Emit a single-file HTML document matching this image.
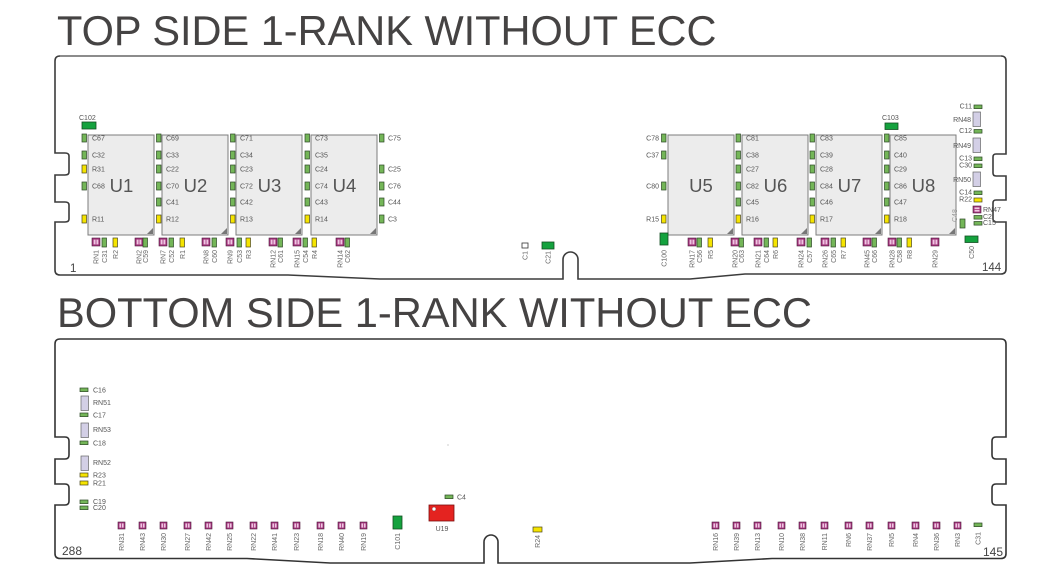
<!DOCTYPE html>
<html><head><meta charset="utf-8"><style>
html,body{margin:0;padding:0;background:#fff}
svg{display:block}
text{font-family:"Liberation Sans",sans-serif}
.l{font-size:7px;fill:#555}
.r{font-size:7px;fill:#666;text-anchor:end}
.t{font-size:41.5px;fill:#454343}
.u{font-size:18.5px;fill:#555;text-anchor:middle}
.n{font-size:11.5px;fill:#444}
</style></head><body>
<svg width="1060" height="583" viewBox="0 0 1060 583" xmlns="http://www.w3.org/2000/svg">
<defs>
<g id="pk8"><rect width="8" height="8" fill="#a3347c" stroke="#4d1a3c" stroke-width=".6"/><rect x="1.6" y="1.6" width="4.8" height="4.8" fill="#efc6e2"/><rect x="3.6" y="1.6" width=".8" height="4.8" fill="#a3347c"/></g>
<g id="pk7"><rect width="7" height="7" fill="#a3347c" stroke="#4d1a3c" stroke-width=".6"/><rect x="1.4" y="1.4" width="4.2" height="4.2" fill="#efc6e2"/><rect x="3.1" y="1.4" width=".8" height="4.2" fill="#a3347c"/></g>
<g id="pkh"><rect width="8" height="7" fill="#a3347c" stroke="#4d1a3c" stroke-width=".6"/><rect x="1.5" y="1.4" width="5" height="4.2" fill="#efc6e2"/><rect x="1.5" y="3.1" width="5" height=".8" fill="#a3347c"/></g>
<g id="gv"><rect width="4.5" height="9" fill="#74b658" stroke="#2c4725" stroke-width=".7"/></g>
<g id="yv"><rect width="4.5" height="9" fill="#f5e400" stroke="#4a4620" stroke-width=".7"/></g>
<g id="gm"><rect width="4.5" height="8" fill="#74b658" stroke="#2c4725" stroke-width=".7"/></g>
<g id="ym"><rect width="4.5" height="8" fill="#f5e400" stroke="#4a4620" stroke-width=".7"/></g>
<g id="gh"><rect width="8" height="3.6" fill="#74b658" stroke="#2c4725" stroke-width=".7"/></g>
<g id="yh"><rect width="8" height="4" fill="#f5e400" stroke="#4a4620" stroke-width=".7"/></g>
<g id="lv"><rect width="7.5" height="14.5" fill="#d3cfe6" stroke="#666" stroke-width=".7"/></g>
<g id="chip"><rect width="66" height="100" fill="#ececec" stroke="#7c7c7c" stroke-width="1"/><polygon points="65,93 65,99 59,99" fill="#777"/></g>
</defs>

<text class="t" x="57" y="45">TOP SIDE 1-RANK WITHOUT ECC</text>
<text class="t" x="57" y="327" textLength="755" lengthAdjust="spacingAndGlyphs">BOTTOM SIDE 1-RANK WITHOUT ECC</text>

<path d="M60,56 H1001 Q1006,56 1006,61 V154 H996 Q993,154 993,157 V173 Q993,176 996,176 H1006 V200 H996 Q993,200 993,203 V219 Q993,222 996,222 H1006 V269 Q1006,274 1001,274 H745 L690,279 H578 V259.5 A7.5,7.5 0 0 0 563,259.5 V279 H380 L288,275 H60 Q55,275 55,270 V222 H65 Q69,222 69,219 V205 Q69,202 65,202 H55 V175 H65 Q69,175 69,172 V156 Q69,153 65,153 H55 V61 Q55,56 60,56 Z" fill="none" stroke="#3c3c3c" stroke-width="1.6"/>
<line x1="60" y1="56" x2="1001" y2="56" stroke="#8a8a8a" stroke-width="1.8"/>

<path d="M60,339 H1001 Q1006,339 1006,344 V437 H996 Q992,437 992,441 V455 Q992,459 996,459 H1006 V484 H996 Q992,484 992,488 V501 Q992,505 996,505 H1006 V553.5 Q1006,558.5 1001,558.5 H772 L690,563 H498 V542 A7,7 0 0 0 484,542 V563 H330 L247,558.5 H60 Q55,558.5 55,553.5 V505 H65 Q69,505 69,501 V488 Q69,484 65,484 H55 V459 H65 Q69,459 69,455 V441 Q69,437 65,437 H55 V344 Q55,339 60,339 Z" fill="none" stroke="#333" stroke-width="1.6"/>

<use href="#chip" x="88" y="135"/><use href="#chip" x="162" y="135"/><use href="#chip" x="236" y="135"/><use href="#chip" x="311" y="135"/>
<use href="#chip" x="668" y="135"/><use href="#chip" x="742" y="135"/><use href="#chip" x="816" y="135"/><use href="#chip" x="890" y="135"/>
<text class="u" x="121.5" y="192">U1</text><text class="u" x="195.5" y="192">U2</text><text class="u" x="269.5" y="192">U3</text><text class="u" x="344.5" y="192">U4</text>
<text class="u" x="701" y="192">U5</text><text class="u" x="775.5" y="192">U6</text><text class="u" x="849.5" y="192">U7</text><text class="u" x="923.5" y="192">U8</text>

<rect x="82" y="122" width="14" height="7" fill="#14a23e" stroke="#134f22" stroke-width=".8"/>
<text class="l" x="79" y="120">C102</text>
<rect x="885" y="123" width="13" height="6.5" fill="#14a23e" stroke="#134f22" stroke-width=".8"/>
<text class="l" x="882" y="120">C103</text>

<use href="#gm" x="82" y="134"/><use href="#gm" x="82" y="151"/><use href="#ym" x="82" y="165"/><use href="#gm" x="82" y="182"/><use href="#ym" x="82" y="215"/>
<text class="l" x="92" y="140.5">C67</text><text class="l" x="92" y="157.5">C32</text><text class="l" x="92" y="171.5">R31</text><text class="l" x="92" y="188.5">C68</text><text class="l" x="92" y="221.5">R11</text>
<use href="#gm" x="156.5" y="134"/><use href="#gm" x="156.5" y="151"/><use href="#gm" x="156.5" y="165"/><use href="#gm" x="156.5" y="182"/><use href="#gm" x="156.5" y="198"/><use href="#ym" x="156.5" y="215"/>
<text class="l" x="166" y="140.5">C69</text><text class="l" x="166" y="157.5">C33</text><text class="l" x="166" y="171.5">C22</text><text class="l" x="166" y="188.5">C70</text><text class="l" x="166" y="204.5">C41</text><text class="l" x="166" y="221.5">R12</text>
<use href="#gm" x="230.5" y="134"/><use href="#gm" x="230.5" y="151"/><use href="#gm" x="230.5" y="165"/><use href="#gm" x="230.5" y="182"/><use href="#gm" x="230.5" y="198"/><use href="#ym" x="230.5" y="215"/>
<text class="l" x="240" y="140.5">C71</text><text class="l" x="240" y="157.5">C34</text><text class="l" x="240" y="171.5">C23</text><text class="l" x="240" y="188.5">C72</text><text class="l" x="240" y="204.5">C42</text><text class="l" x="240" y="221.5">R13</text>
<use href="#gm" x="305" y="134"/><use href="#gm" x="305" y="151"/><use href="#gm" x="305" y="165"/><use href="#gm" x="305" y="182"/><use href="#gm" x="305" y="198"/><use href="#ym" x="305" y="215"/>
<text class="l" x="315" y="140.5">C73</text><text class="l" x="315" y="157.5">C35</text><text class="l" x="315" y="171.5">C24</text><text class="l" x="315" y="188.5">C74</text><text class="l" x="315" y="204.5">C43</text><text class="l" x="315" y="221.5">R14</text>
<use href="#gm" x="379.5" y="134"/><use href="#gm" x="379.5" y="165"/><use href="#gm" x="379.5" y="182"/><use href="#gm" x="379.5" y="198"/><use href="#gm" x="379.5" y="215"/>
<text class="l" x="388" y="140.5">C75</text><text class="l" x="388" y="171.5">C25</text><text class="l" x="388" y="188.5">C76</text><text class="l" x="388" y="204.5">C44</text><text class="l" x="388" y="221.5">C3</text>

<use href="#gm" x="661.5" y="134"/><use href="#gm" x="661.5" y="151"/><use href="#gm" x="661.5" y="182"/><use href="#ym" x="661.5" y="215"/>
<text class="l" x="659" y="140.5" text-anchor="end">C78</text><text class="l" x="659" y="157.5" text-anchor="end">C37</text><text class="l" x="659" y="188.5" text-anchor="end">C80</text><text class="l" x="659" y="221.5" text-anchor="end">R15</text>
<use href="#gm" x="736" y="134"/><use href="#gm" x="736" y="151"/><use href="#gm" x="736" y="165"/><use href="#gm" x="736" y="182"/><use href="#gm" x="736" y="198"/><use href="#ym" x="736" y="215"/>
<text class="l" x="746" y="140.5">C81</text><text class="l" x="746" y="157.5">C38</text><text class="l" x="746" y="171.5">C27</text><text class="l" x="746" y="188.5">C82</text><text class="l" x="746" y="204.5">C45</text><text class="l" x="746" y="221.5">R16</text>
<use href="#gm" x="810" y="134"/><use href="#gm" x="810" y="151"/><use href="#gm" x="810" y="165"/><use href="#gm" x="810" y="182"/><use href="#gm" x="810" y="198"/><use href="#ym" x="810" y="215"/>
<text class="l" x="820" y="140.5">C83</text><text class="l" x="820" y="157.5">C39</text><text class="l" x="820" y="171.5">C28</text><text class="l" x="820" y="188.5">C84</text><text class="l" x="820" y="204.5">C46</text><text class="l" x="820" y="221.5">R17</text>
<use href="#gm" x="884.5" y="134"/><use href="#gm" x="884.5" y="151"/><use href="#gm" x="884.5" y="165"/><use href="#gm" x="884.5" y="182"/><use href="#gm" x="884.5" y="198"/><use href="#ym" x="884.5" y="215"/>
<text class="l" x="894" y="140.5">C85</text><text class="l" x="894" y="157.5">C40</text><text class="l" x="894" y="171.5">C29</text><text class="l" x="894" y="188.5">C86</text><text class="l" x="894" y="204.5">C47</text><text class="l" x="894" y="221.5">R18</text>

<use href="#gh" x="974" y="105"/><text class="l" x="972" y="108.5" text-anchor="end">C11</text>
<use href="#lv" x="973" y="112"/><text class="l" x="971" y="122" text-anchor="end">RN48</text>
<use href="#gh" x="974" y="129.5"/><text class="l" x="972" y="133" text-anchor="end">C12</text>
<use href="#lv" x="973" y="138"/><text class="l" x="971" y="148" text-anchor="end">RN49</text>
<use href="#gh" x="974" y="157"/><text class="l" x="972" y="160.5" text-anchor="end">C13</text>
<use href="#gh" x="974" y="164"/><text class="l" x="972" y="167.5" text-anchor="end">C30</text>
<use href="#lv" x="973" y="172"/><text class="l" x="971" y="182" text-anchor="end">RN50</text>
<use href="#gh" x="974" y="191"/><text class="l" x="972" y="194.5" text-anchor="end">C14</text>
<use href="#yh" x="974" y="198"/><text class="l" x="972" y="201.5" text-anchor="end">R22</text>
<use href="#pkh" x="973" y="206"/><text class="l" x="983" y="212">RN47</text>
<use href="#gh" x="974" y="215.5"/><text class="l" x="983" y="219">C2</text>
<use href="#gh" x="974" y="221.5"/><text class="l" x="983" y="225">C15</text>
<rect x="960" y="219" width="5" height="9" fill="#74b658" stroke="#2c4725" stroke-width=".7"/>
<text class="l" style="fill:#999" transform="translate(957,222) rotate(-90)">C48</text>

<rect x="522" y="243" width="6" height="5" fill="#fff" stroke="#333" stroke-width=".8"/>
<rect x="542" y="242" width="12" height="7" fill="#14a23e" stroke="#134f22" stroke-width=".8"/>
<rect x="660" y="233" width="8" height="12" fill="#14a23e" stroke="#134f22" stroke-width=".8"/>
<rect x="965" y="236" width="13" height="6.5" fill="#14a23e" stroke="#134f22" stroke-width=".8"/>

<use href="#pk8" x="92" y="238"/><use href="#gv" x="102" y="238"/><use href="#yv" x="113" y="238"/>
<use href="#pk8" x="135" y="238"/><use href="#gv" x="143" y="238"/>
<use href="#pk8" x="159" y="238"/><use href="#gv" x="169" y="238"/><use href="#yv" x="180" y="238"/>
<use href="#pk8" x="202" y="238"/><use href="#gv" x="212" y="238"/>
<use href="#pk8" x="226" y="238"/><use href="#gv" x="237" y="238"/><use href="#yv" x="246" y="238"/>
<use href="#pk8" x="269" y="238"/><use href="#gv" x="278" y="238"/>
<use href="#pk8" x="293" y="238"/><use href="#gv" x="303" y="238"/><use href="#yv" x="312" y="238"/>
<use href="#pk8" x="336" y="238"/><use href="#gv" x="345" y="238"/>
<use href="#pk8" x="688" y="238"/><use href="#gv" x="697" y="238"/><use href="#yv" x="708" y="238"/>
<use href="#pk8" x="731" y="238"/><use href="#gv" x="739" y="238"/>
<use href="#pk8" x="754" y="238"/><use href="#gv" x="764" y="238"/><use href="#yv" x="773" y="238"/>
<use href="#pk8" x="797" y="238"/><use href="#gv" x="807" y="238"/>
<use href="#pk8" x="821" y="238"/><use href="#gv" x="831" y="238"/><use href="#yv" x="841" y="238"/>
<use href="#pk8" x="863" y="238"/><use href="#gv" x="872" y="238"/>
<use href="#pk8" x="888" y="238"/><use href="#gv" x="897" y="238"/><use href="#yv" x="907" y="238"/>
<use href="#pk8" x="931" y="238"/>

<g>
<text class="r" transform="translate(98.5,250) rotate(-90)">RN1</text>
<text class="r" transform="translate(107,250) rotate(-90)">C31</text>
<text class="r" transform="translate(118,250) rotate(-90)">R2</text>
<text class="r" transform="translate(141.5,250) rotate(-90)">RN2</text>
<text class="r" transform="translate(148,250) rotate(-90)">C59</text>
<text class="r" transform="translate(165.5,250) rotate(-90)">RN7</text>
<text class="r" transform="translate(174,250) rotate(-90)">C52</text>
<text class="r" transform="translate(185,250) rotate(-90)">R1</text>
<text class="r" transform="translate(208.5,250) rotate(-90)">RN8</text>
<text class="r" transform="translate(217,250) rotate(-90)">C60</text>
<text class="r" transform="translate(232.5,250) rotate(-90)">RN9</text>
<text class="r" transform="translate(242,250) rotate(-90)">C53</text>
<text class="r" transform="translate(251,250) rotate(-90)">R3</text>
<text class="r" transform="translate(275.5,250) rotate(-90)">RN12</text>
<text class="r" transform="translate(283,250) rotate(-90)">C61</text>
<text class="r" transform="translate(299.5,250) rotate(-90)">RN15</text>
<text class="r" transform="translate(308,250) rotate(-90)">C54</text>
<text class="r" transform="translate(317,250) rotate(-90)">R4</text>
<text class="r" transform="translate(342.5,250) rotate(-90)">RN14</text>
<text class="r" transform="translate(350,250) rotate(-90)">C62</text>
<text class="r" transform="translate(527.5,251) rotate(-90)">C1</text>
<text class="r" transform="translate(550.5,251) rotate(-90)">C21</text>
<text class="r" transform="translate(666.5,250) rotate(-90)">C100</text>
<text class="r" transform="translate(694.5,250) rotate(-90)">RN17</text>
<text class="r" transform="translate(702,250) rotate(-90)">C56</text>
<text class="r" transform="translate(713,250) rotate(-90)">R5</text>
<text class="r" transform="translate(737.5,250) rotate(-90)">RN20</text>
<text class="r" transform="translate(744,250) rotate(-90)">C63</text>
<text class="r" transform="translate(760.5,250) rotate(-90)">RN21</text>
<text class="r" transform="translate(769,250) rotate(-90)">C64</text>
<text class="r" transform="translate(778,250) rotate(-90)">R6</text>
<text class="r" transform="translate(803.5,250) rotate(-90)">RN24</text>
<text class="r" transform="translate(812,250) rotate(-90)">C57</text>
<text class="r" transform="translate(827.5,250) rotate(-90)">RN26</text>
<text class="r" transform="translate(836,250) rotate(-90)">C65</text>
<text class="r" transform="translate(846,250) rotate(-90)">R7</text>
<text class="r" transform="translate(869.5,250) rotate(-90)">RN45</text>
<text class="r" transform="translate(877,250) rotate(-90)">C66</text>
<text class="r" transform="translate(894.5,250) rotate(-90)">RN28</text>
<text class="r" transform="translate(902,250) rotate(-90)">C58</text>
<text class="r" transform="translate(912,250) rotate(-90)">R8</text>
<text class="r" transform="translate(937.5,250) rotate(-90)">RN29</text>
<text class="r" transform="translate(974,246) rotate(-90)">C50</text>
</g>

<text class="n" x="70" y="272">1</text>
<text class="n" x="982" y="271">144</text>

<use href="#gh" x="80" y="388"/><text class="l" x="93" y="392.5">C16</text>
<use href="#lv" x="81" y="396"/><text class="l" x="93" y="405">RN51</text>
<use href="#gh" x="80" y="413"/><text class="l" x="93" y="417.5">C17</text>
<use href="#lv" x="81" y="423"/><text class="l" x="93" y="432">RN53</text>
<use href="#gh" x="80" y="441"/><text class="l" x="93" y="445.5">C18</text>
<use href="#lv" x="81" y="456"/><text class="l" x="93" y="465">RN52</text>
<use href="#yh" x="80" y="473"/><text class="l" x="93" y="477.5">R23</text>
<use href="#yh" x="80" y="481"/><text class="l" x="93" y="485.5">R21</text>
<use href="#gh" x="80" y="500"/><text class="l" x="93" y="504">C19</text>
<use href="#gh" x="80" y="506"/><text class="l" x="93" y="510">C20</text>

<use href="#pk7" x="118" y="522"/><use href="#pk7" x="139" y="522"/><use href="#pk7" x="160" y="522"/><use href="#pk7" x="184" y="522"/>
<use href="#pk7" x="205" y="522"/><use href="#pk7" x="226" y="522"/><use href="#pk7" x="250" y="522"/><use href="#pk7" x="271" y="522"/>
<use href="#pk7" x="293" y="522"/><use href="#pk7" x="317" y="522"/><use href="#pk7" x="338" y="522"/><use href="#pk7" x="360" y="522"/>
<use href="#pk7" x="712" y="522"/><use href="#pk7" x="733" y="522"/><use href="#pk7" x="754" y="522"/><use href="#pk7" x="778" y="522"/>
<use href="#pk7" x="799" y="522"/><use href="#pk7" x="821" y="522"/><use href="#pk7" x="845" y="522"/><use href="#pk7" x="866" y="522"/>
<use href="#pk7" x="888" y="522"/><use href="#pk7" x="912" y="522"/><use href="#pk7" x="933" y="522"/><use href="#pk7" x="954" y="522"/>
<use href="#gh" x="974" y="523"/>

<rect x="393" y="516" width="9" height="13" fill="#14a23e" stroke="#134f22" stroke-width=".8"/>
<use href="#gh" x="445" y="495"/><text class="l" x="457" y="499.5">C4</text>
<rect x="429" y="505" width="25" height="16" fill="#e42320" stroke="#7a1010" stroke-width=".8"/>
<circle cx="434" cy="509" r="2" fill="#fff" stroke="#7a1010" stroke-width=".4"/>
<text class="l" x="442" y="531" text-anchor="middle">U19</text>
<rect x="533" y="527" width="9" height="5" fill="#f5e400" stroke="#4a4620" stroke-width=".7"/>
<circle cx="448" cy="445" r=".6" fill="#aaa"/>

<g>
<text class="r" transform="translate(124,533) rotate(-90)">RN31</text>
<text class="r" transform="translate(145,533) rotate(-90)">RN43</text>
<text class="r" transform="translate(166,533) rotate(-90)">RN30</text>
<text class="r" transform="translate(190,533) rotate(-90)">RN27</text>
<text class="r" transform="translate(211,533) rotate(-90)">RN42</text>
<text class="r" transform="translate(232,533) rotate(-90)">RN25</text>
<text class="r" transform="translate(256,533) rotate(-90)">RN22</text>
<text class="r" transform="translate(277,533) rotate(-90)">RN41</text>
<text class="r" transform="translate(299,533) rotate(-90)">RN23</text>
<text class="r" transform="translate(323,533) rotate(-90)">RN18</text>
<text class="r" transform="translate(344,533) rotate(-90)">RN40</text>
<text class="r" transform="translate(366,533) rotate(-90)">RN19</text>
<text class="r" transform="translate(400,533) rotate(-90)">C101</text>
<text class="r" transform="translate(540,535) rotate(-90)">R24</text>
<text class="r" transform="translate(718,533) rotate(-90)">RN16</text>
<text class="r" transform="translate(739,533) rotate(-90)">RN39</text>
<text class="r" transform="translate(760,533) rotate(-90)">RN13</text>
<text class="r" transform="translate(784,533) rotate(-90)">RN10</text>
<text class="r" transform="translate(805,533) rotate(-90)">RN38</text>
<text class="r" transform="translate(827,533) rotate(-90)">RN11</text>
<text class="r" transform="translate(851,533) rotate(-90)">RN6</text>
<text class="r" transform="translate(872,533) rotate(-90)">RN37</text>
<text class="r" transform="translate(894,533) rotate(-90)">RN5</text>
<text class="r" transform="translate(918,533) rotate(-90)">RN4</text>
<text class="r" transform="translate(939,533) rotate(-90)">RN36</text>
<text class="r" transform="translate(960,533) rotate(-90)">RN3</text>
<text class="r" transform="translate(980.5,532) rotate(-90)">C31</text>
</g>

<text class="n" style="font-size:12px" x="62" y="555">288</text>
<text class="n" style="font-size:12px" x="983" y="556">145</text>
</svg>
</body></html>
